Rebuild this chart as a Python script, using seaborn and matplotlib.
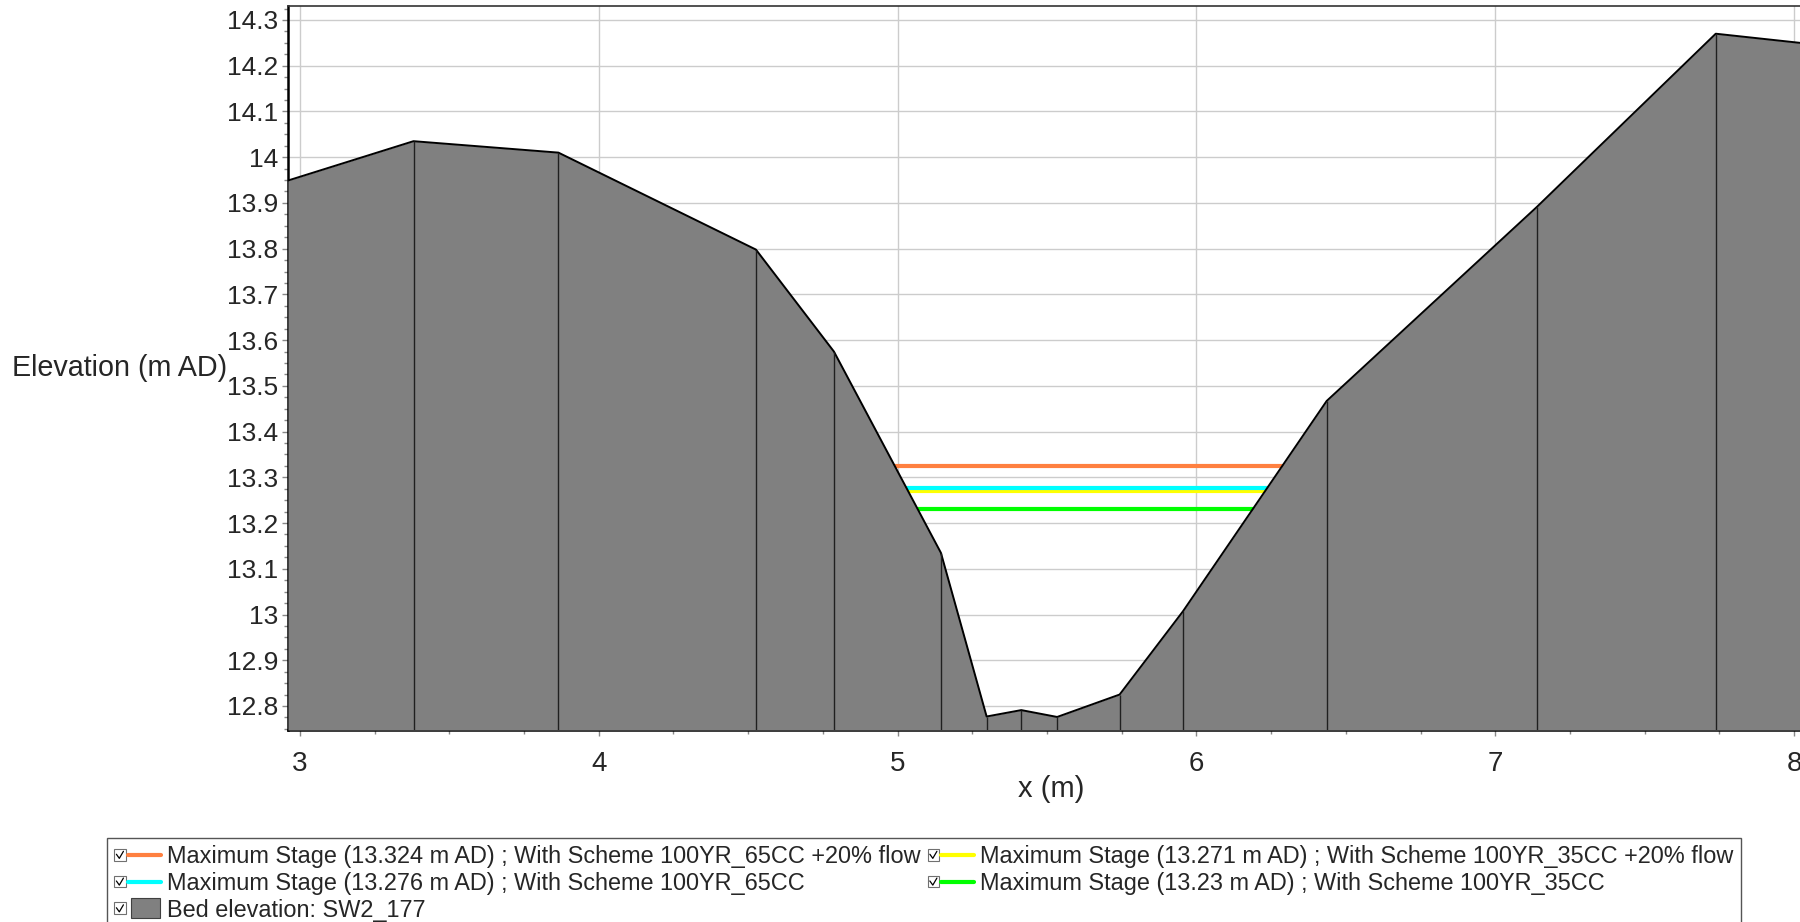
import numpy as np
import matplotlib
matplotlib.use("Agg")
import matplotlib.pyplot as plt
import seaborn as sns
from matplotlib.legend_handler import HandlerBase
from matplotlib.lines import Line2D
from matplotlib.patches import Rectangle, Patch
from matplotlib.ticker import MultipleLocator, FormatStrFormatter

# bed profile of cross-section SW2_177
bed_x = [2.96, 3.38, 3.865, 4.526, 4.787, 5.145, 5.298, 5.414, 5.534, 5.743, 5.955, 6.436, 7.139, 7.738, 8.02]
bed_z = [13.949, 14.035, 14.010, 13.798, 13.575, 13.135, 12.777, 12.791, 12.776, 12.825, 13.007, 13.467, 13.891, 14.270, 14.250]

# maximum stages per scenario (drawn in this order)
stage_names = ["100YR_65CC +20% flow", "100YR_35CC +20% flow", "100YR_65CC", "100YR_35CC"]
stage_levels = [13.324, 13.271, 13.276, 13.23]
stage_colors = ["#ff8040", "#ffff00", "#00ffff", "#00ff00"]

section = "SW2_177"


def bank_x(level):
    # where a stage level meets the left and right banks
    xs = np.array(bed_x)
    zs = np.array(bed_z)
    i_low = int(np.argmin(zs))
    left = np.interp(level, zs[1:i_low + 1][::-1], xs[1:i_low + 1][::-1])
    j_low = len(zs) - 1 - int(np.argmin(zs[::-1]))
    right = np.interp(level, zs[j_low:-1], xs[j_low:-1])
    return left, right


class CheckHandler(HandlerBase):
    # legend entry: little ticked checkbox, then the line or the patch
    def create_artists(self, legend, orig_handle, xdescent, ydescent, width, height, fontsize, trans):
        x0 = -xdescent
        y0 = -ydescent
        bs = fontsize * 0.5
        by = y0 + (height - bs) / 2
        arts = [Rectangle((x0, by), bs, bs, fc="white", ec="#707070", lw=0.8, transform=trans),
                Line2D([x0 + bs * 0.2, x0 + bs * 0.45, x0 + bs * 0.8],
                       [by + bs * 0.55, by + bs * 0.2, by + bs * 0.8],
                       color="black", lw=0.9, transform=trans)]
        gx = x0 + bs + 1.5
        if isinstance(orig_handle, Line2D):
            arts.append(Line2D([gx, x0 + width], [y0 + height / 2, y0 + height / 2],
                               color=orig_handle.get_color(), lw=orig_handle.get_linewidth(),
                               solid_capstyle="round", transform=trans))
        else:
            ph = height * 1.2
            arts.append(Rectangle((gx + 2.5, y0 + (height - ph) / 2), width - bs - 5, ph,
                                  fc=orig_handle.get_facecolor(), ec="#404040", lw=0.8, transform=trans))
        return arts


sns.set_theme(style="white")
plt.rcParams["font.family"] = ["Liberation Sans", "DejaVu Sans"]

fig = plt.figure(figsize=(18, 9.22), dpi=100)
ax = fig.add_axes([288 / 1800, 1 - 730 / 922, 1512 / 1800, 724 / 922])

ax.set_xlim(2.96, 8.02)
ax.set_ylim(12.7475, 14.3306)
ymin = ax.get_ylim()[0]

ax.set_axisbelow(True)
ax.grid(True, which="major", color="#cccccc", lw=1.0)

# stage lines, bank to bank
for name, level, col in zip(stage_names, stage_levels, stage_colors):
    xl, xr = bank_x(level)
    sns.lineplot(x=[xl, xr], y=[level, level], color=col, lw=3.0, ax=ax, zorder=2)

ax.fill_between(bed_x, bed_z, ymin, color="#808080", lw=0, zorder=3)
sns.lineplot(x=bed_x, y=bed_z, color="black", lw=1.4, ax=ax, zorder=4)
ax.vlines(bed_x[1:-1], ymin, bed_z[1:-1], color="#202020", lw=1.0, zorder=4)

ax.xaxis.set_major_locator(MultipleLocator(1))
ax.xaxis.set_minor_locator(MultipleLocator(0.25))
ax.yaxis.set_major_locator(MultipleLocator(0.1))
ax.yaxis.set_minor_locator(MultipleLocator(0.025))
ax.yaxis.set_major_formatter(FormatStrFormatter("%g"))
ax.xaxis.set_major_formatter(FormatStrFormatter("%g"))

ax.tick_params(axis="both", which="both", direction="out", color="#888888", width=1)
ax.tick_params(axis="both", which="major", length=4)
ax.tick_params(axis="both", which="minor", length=3)
ax.tick_params(axis="y", which="major", labelsize=19, pad=3, left=True)
ax.tick_params(axis="y", which="minor", left=True)
ax.tick_params(axis="x", which="major", labelsize=20, pad=11, bottom=True)
ax.tick_params(axis="x", which="minor", bottom=True)

for side in ["left", "bottom"]:
    ax.spines[side].set_color("black")
    ax.spines[side].set_linewidth(1.8)
ax.spines["top"].set_color("#333333")
ax.spines["top"].set_linewidth(1.2)
ax.spines["right"].set_visible(False)

ax.set_xlabel("x (m)", fontsize=21)
ax.xaxis.set_label_coords(0.505, -0.081)
ax.xaxis.label.set_va("center")
ax.set_ylabel("Elevation (m AD)", fontsize=20.7, rotation=0, ha="right", va="center")
ax.yaxis.set_label_coords(-0.040, 0.5)

handles = []
labels = []
for name, level, col in zip(stage_names, stage_levels, stage_colors):
    handles.append(Line2D([], [], color=col, lw=3.0))
    labels.append("Maximum Stage (%g m AD) ; With Scheme %s" % (level, name))
bed_handle = Patch(facecolor="#808080")

# matplotlib fills legend columns first: orange, cyan, bed | yellow, green
leg_h = [handles[0], handles[2], bed_handle, handles[1], handles[3]]
leg_l = [labels[0], labels[2], "Bed elevation: " + section, labels[1], labels[3]]

leg = fig.legend(leg_h, leg_l, loc="upper left", bbox_to_anchor=(107 / 1800, 1 - 838 / 922),
                 ncol=2, fontsize=16.9, frameon=True, fancybox=False, framealpha=1,
                 edgecolor="#555555", borderpad=0.3, borderaxespad=0, handlelength=2.0,
                 handletextpad=0.25, columnspacing=0.3, labelspacing=0.16,
                 handler_map={Line2D: CheckHandler(), Patch: CheckHandler()})
leg.get_frame().set_linewidth(1.0)

fig.savefig("out.png", dpi=100)
